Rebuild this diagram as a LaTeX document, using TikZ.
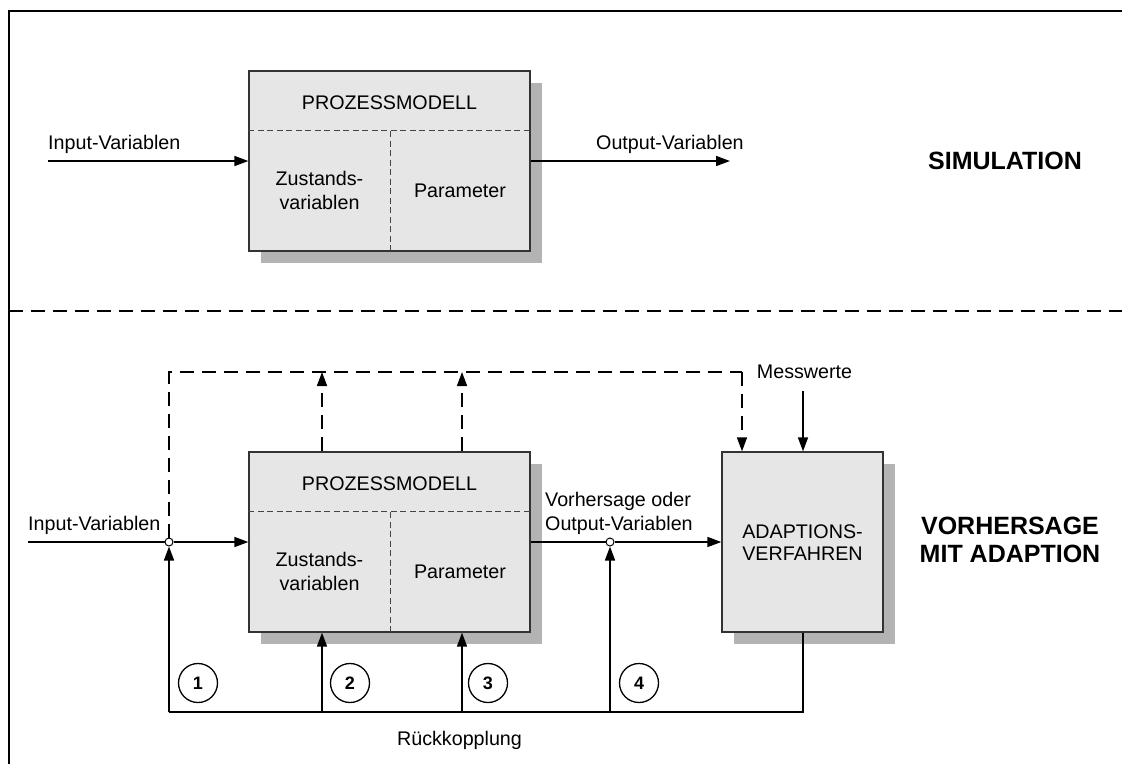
\documentclass[tikz,border=0pt]{standalone}
\usepackage{fontspec}
\setmainfont{Liberation Sans}
\usetikzlibrary{arrows.meta,shadows,calc}

\definecolor{boxfill}{HTML}{E6E6E6}
\definecolor{shadowgrey}{HTML}{B3B3B3}
\definecolor{boxline}{HTML}{333333}
\definecolor{divline}{HTML}{444444}

\tikzset{
  pmbox/.style={draw=boxline, line width=1.3pt, fill=boxfill,
    minimum width=281pt, minimum height=180pt, inner sep=0pt,
    drop shadow={shadow xshift=12pt, shadow yshift=-12pt,
      fill=shadowgrey, opacity=1, draw=none}},
  divider/.style={draw=divline, line width=1pt, dash pattern=on 6pt off 3.5pt},
  lbl/.style={inner sep=0pt, anchor=base, font=\fontsize{19.7pt}{23.3pt}\selectfont},
  lblw/.style={lbl, anchor=base west},
  title/.style={inner sep=0pt, anchor=base, font=\fontsize{25pt}{28pt}\selectfont\bfseries},
  conn/.style={line width=1.6pt, draw=black},
  tip/.style={-{Triangle[length=14pt,width=10pt]}},
  dconn/.style={conn, dash pattern=on 14pt off 8pt},
  junc/.style={circle, draw=black, fill=white, line width=1pt,
    minimum size=8pt, inner sep=0pt},
  numc/.style={circle, draw=black, line width=1.3pt, minimum size=39pt,
    inner sep=0pt, font=\fontsize{18pt}{20pt}\selectfont\bfseries},
  sepline/.style={line width=1.7pt, dash pattern=on 14pt off 8pt},
}

\begin{document}
\begin{tikzpicture}[x=1pt, y=-1pt]
\useasboundingbox (0,0) rectangle (1122,764);

% frame and section separator
\draw[line width=2pt, line join=miter] (9,764) -- (9,11) -- (1122,11);
\draw[sepline] (9,311) -- (1122,311);

% ---------- upper section: simulation ----------
\node[pmbox] (pmA) at (389.5,161) {};
\coordinate (divA) at (390,131);
\draw[divider] ($(pmA.north west)+(0,60)$) -- ($(pmA.north east)+(0,60)$);
\draw[divider] (divA) -- (divA |- pmA.south);
\node[lbl] (pmAtitle) at (389.5,109.3) {PROZESSMODELL};
\node[lbl] (pmAzu) at (319.5,185.7) {Zustands-};
\node[lbl] (pmAva) at (319.5,209) {variablen};
\node[lbl] (pmApa) at (460,197.3) {Parameter};

\coordinate (inA) at (48,161);
\coordinate (outA) at (730,161);
\draw[conn,tip] (inA) -- (pmA.west);
\draw[conn,tip] (pmA.east) -- (outA);
\node[lblw] (inAlbl) at (48,149.5) {Input-Variablen};
\node[lblw] (outAlbl) at (596,149.5) {Output-Variablen};

\node[title] (sim) at (1005,169.3) {SIMULATION};

% ---------- lower section: prediction with adaption ----------
\node[pmbox] (pmB) at (389.5,542) {};
\coordinate (divB) at (390,512);
\draw[divider] ($(pmB.north west)+(0,60)$) -- ($(pmB.north east)+(0,60)$);
\draw[divider] (divB) -- (divB |- pmB.south);
\node[lbl] (pmBtitle) at (389.5,490.3) {PROZESSMODELL};
\node[lbl] (pmBzu) at (319.5,566.7) {Zustands-};
\node[lbl] (pmBva) at (319.5,590) {variablen};
\node[lbl] (pmBpa) at (460,578.3) {Parameter};

\node[pmbox, minimum width=161pt] (adapt) at (802.5,542) {};
\node[lbl] (adapt1) at (802.5,538.5) {ADAPTIONS-};
\node[lbl] (adapt2) at (802.5,560.5) {VERFAHREN};

\node[title] (vor1) at (1010,534.3) {VORHERSAGE};
\node[title] (vor2) at (1010,562.3) {MIT ADAPTION};

% junctions on the signal path
\node[junc] (jA) at (169,542) {};
\node[junc] (jB) at (610,542) {};

\coordinate (inB) at (28,542);
\draw[conn] (inB) -- (jA.west);
\draw[conn,tip] (jA.east) -- (pmB.west);
\draw[conn] (pmB.east) -- (jB.west);
\draw[conn,tip] (jB.east) -- (adapt.west);
\node[lblw] (inBlbl) at (28,530) {Input-Variablen};
\node[lblw] (outB1) at (545,506.7) {Vorhersage oder};
\node[lblw] (outB2) at (545,530) {Output-Variablen};

% measured values
\node[lbl] (mess) at (804.5,378) {Messwerte};
\coordinate (mw) at (803,391);
\draw[conn,tip] (mw) -- (mw |- adapt.north);

% dashed paths above the model
\coordinate (dL) at (169,372);
\coordinate (dR) at (742,372);
\coordinate (u1) at (322,372);
\coordinate (u2) at (462,372);
\draw[dconn] (jA.north) -- (dL) -- (dR);
\draw[dconn,tip] (dR) -- (dR |- adapt.north);
\draw[dconn,tip] (u1 |- pmB.north) -- (u1);
\draw[dconn,tip] (u2 |- pmB.north) -- (u2);

% feedback paths
\coordinate (f1) at (169,712);
\coordinate (f2) at (322,712);
\coordinate (f3) at (462,712);
\coordinate (f4) at (610,712);
\coordinate (f5) at (803,712);
\draw[conn, line join=miter] (f5 |- adapt.south) -- (f5) -- (f1);
\draw[conn,tip] (f1) -- (jA.south);
\draw[conn,tip] (f2) -- (f2 |- pmB.south);
\draw[conn,tip] (f3) -- (f3 |- pmB.south);
\draw[conn,tip] (f4) -- (jB.south);

\node[numc] (n1) at (198,683) {1};
\node[numc] (n2) at (350,683) {2};
\node[numc] (n3) at (488,683) {3};
\node[numc] (n4) at (639,683) {4};

\node[lbl] (rk) at (459.5,745) {Rückkopplung};
\end{tikzpicture}
\end{document}
